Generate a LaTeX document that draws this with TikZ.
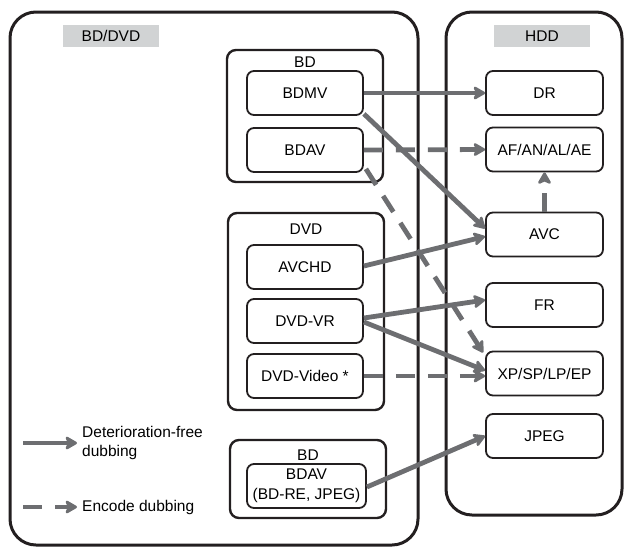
\documentclass[tikz,border=0pt]{standalone}
\usepackage{fontspec}
\setmainfont{Liberation Sans}
\usetikzlibrary{arrows.meta,calc}
\definecolor{arr}{RGB}{109,110,113}
\definecolor{lbl}{RGB}{209,211,212}
\definecolor{ink}{RGB}{35,31,32}
\newcommand\diagfont{\fontsize{15.5}{19.5}\selectfont}
\tikzset{
 outerbox/.style={draw=ink, line width=3pt, rounded corners=26pt, inner sep=0pt},
 groupbox/.style={draw=ink, line width=2.4pt, rounded corners=9pt, inner sep=0pt},
 itembox/.style={draw=ink, line width=1.8pt, rounded corners=7pt, minimum width=116pt, minimum height=44pt, inner sep=0pt, font=\diagfont, align=center},
 tagbox/.style={fill=lbl, minimum width=96pt, minimum height=22pt, inner sep=0pt, font=\diagfont},
 grouplabel/.style={font=\diagfont, inner sep=0pt},
 conn/.style={draw=arr, line width=4.8pt, -{Stealth[length=14pt,width=16pt,inset=3.5pt,round]}},
 dconn/.style={conn, dash pattern=on 19pt off 13pt},
}
\begin{document}
\begin{tikzpicture}[x=1pt,y=-1pt]
\useasboundingbox (0,0) rectangle (624,547);
% outer containers
\node[outerbox, minimum width=408pt, minimum height=533pt] (bdvd) at (214,278.5) {};
\node[outerbox, minimum width=176pt, minimum height=503pt] (hdd) at (534,263.5) {};
\node[tagbox] (tagbdvd) at (111,36) {BD/DVD};
\node[tagbox] (taghdd) at (542,36) {HDD};
% group boxes
\node[groupbox, minimum width=156pt, minimum height=132pt] (gbd1) at (305,116) {};
\node[grouplabel] (lbd1) at (305,62) {BD};
\node[groupbox, minimum width=156pt, minimum height=197pt] (gdvd) at (306,311.5) {};
\node[grouplabel] (ldvd) at (306,229) {DVD};
\node[groupbox, minimum width=156pt, minimum height=78pt] (gbd2) at (308,479) {};
\node[grouplabel] (lbd2) at (308,455) {BD};
% source items
\node[itembox] (bdmv) at (305,93) {BDMV};
\node[itembox] (bdav) at (305,150) {BDAV};
\node[itembox] (avchd) at (305,267) {AVCHD};
\node[itembox] (dvdvr) at (305,321) {DVD-VR};
\node[itembox] (dvdvideo) at (305,376) {DVD-Video *};
\node[itembox, minimum width=119pt, minimum height=44pt] (bdav2) at (306.5,486) {BDAV\\(BD-RE, JPEG)};
% HDD items
\node[itembox, minimum width=117pt] (dr) at (544.5,93) {DR};
\node[itembox, minimum width=117pt] (af) at (544.5,149.5) {AF/AN/AL/AE};
\node[itembox, minimum width=117pt] (avc) at (544.5,234.5) {AVC};
\node[itembox, minimum width=117pt] (fr) at (544.5,305) {FR};
\node[itembox, minimum width=117pt] (xp) at (544.5,373.5) {XP/SP/LP/EP};
\node[itembox, minimum width=117pt] (jpeg) at (544.5,436) {JPEG};
% connectors
\draw[conn] (bdmv.east) -- (dr.west);
\draw[dconn] (bdav.east) -- (af.west);
\draw[conn] ($(bdmv.south east)+(0,-2)$) -- ($(avc.west)+(0,-6)$);
\draw[dconn] ($(bdav.south east)+(2,-4)$) -- ($(xp.north west)+(-2,2)$);
\draw[dconn] (avc.north) -- (af.south);
\draw[conn] ($(avchd.east)+(0,-1)$) -- ($(avc.west)+(0,2)$);
\draw[conn] ($(dvdvr.east)+(0,-3)$) -- ($(fr.west)+(0,-5)$);
\draw[conn] ($(dvdvr.east)+(0,1)$) -- ($(xp.west)+(0,-3)$);
\draw[dconn] (dvdvideo.east) -- (dvdvideo.east -| xp.west);
\draw[conn] ($(bdav2.east)+(0,1)$) -- (jpeg.west);
% legend
\coordinate (la1) at (23,443);
\coordinate (la2) at (77,443);
\draw[conn] (la1) -- (la2);
\node[font=\diagfont, anchor=west, align=left, inner sep=0pt] (lta) at (82,443) {Deterioration-free\\dubbing};
\coordinate (lb1) at (23,507);
\coordinate (lb2) at (77,507);
\draw[dconn] (lb1) -- (lb2);
\node[font=\diagfont, anchor=west, inner sep=0pt] (ltb) at (82,507) {Encode dubbing};
\end{tikzpicture}
\end{document}
